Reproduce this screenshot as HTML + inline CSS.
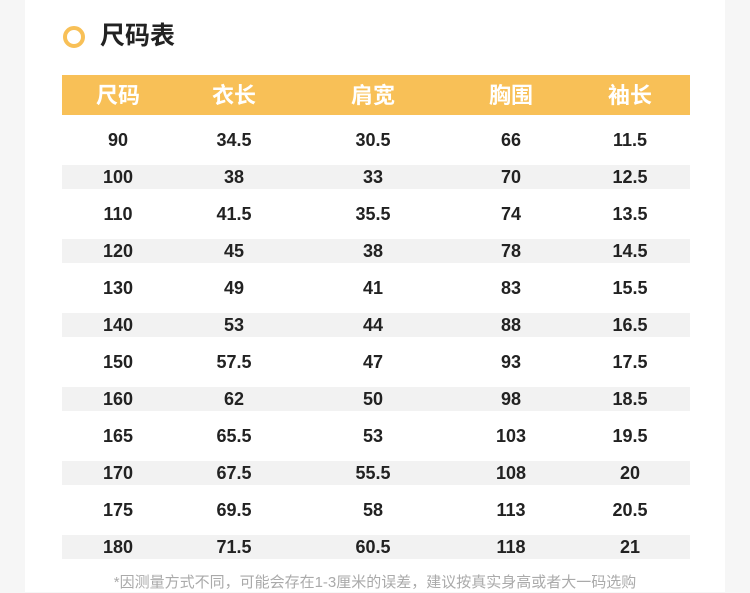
<!DOCTYPE html>
<html><head><meta charset="utf-8"><style>
body{margin:0;width:750px;height:592px;background:#f6f6f6;overflow:hidden;font-family:"Liberation Sans","Noto Sans CJK SC",sans-serif;}
.panel{position:absolute;left:25px;top:0;width:700px;height:592px;background:#fff;}
.circ{position:absolute;left:63px;top:26px;width:14px;height:14px;border:4px solid #f8c057;border-radius:50%;}
.title{position:absolute;left:100px;top:20px;font-size:25px;color:#222;line-height:32px;font-weight:bold;}
.hdr{position:absolute;left:62px;top:75px;width:628px;height:40px;background:#f8c057;}
.c{position:absolute;transform:translateX(-50%);white-space:nowrap;}
.h{color:#fff;font-size:22px;top:83px;line-height:26px;font-weight:bold;}
.stripe{position:absolute;left:62px;width:628px;height:24px;background:#f2f2f2;}
.v{font-size:18px;color:#222;line-height:20px;font-weight:bold;}
.foot{position:absolute;left:0;width:750px;text-align:center;top:573px;font-size:15px;color:#aaa;line-height:20px;}
</style></head><body>
<div class="panel"></div>
<div class="circ"></div>
<div class="title">尺码表</div>
<div class="hdr"></div>
<div class="c h" style="left:118px">尺码</div>
<div class="c h" style="left:234px">衣长</div>
<div class="c h" style="left:373px">肩宽</div>
<div class="c h" style="left:511px">胸围</div>
<div class="c h" style="left:630px">袖长</div>
<div id="rows"></div>
<div class="foot">*因测量方式不同，可能会存在1-3厘米的误差，建议按真实身高或者大一码选购</div>
<script>
var d=[["90","34.5","30.5","66","11.5"],["100","38","33","70","12.5"],["110","41.5","35.5","74","13.5"],["120","45","38","78","14.5"],["130","49","41","83","15.5"],["140","53","44","88","16.5"],["150","57.5","47","93","17.5"],["160","62","50","98","18.5"],["165","65.5","53","103","19.5"],["170","67.5","55.5","108","20"],["175","69.5","58","113","20.5"],["180","71.5","60.5","118","21"]];
var xs=[118,234,373,511,630],h="";
d.forEach(function(r,i){var cy=140+37*i;if(i%2)h+='<div class="stripe" style="top:'+(cy-12)+'px"></div>';
r.forEach(function(t,j){h+='<div class="c v" style="left:'+xs[j]+'px;top:'+(cy-10)+'px">'+t+'</div>';});});
document.getElementById("rows").innerHTML=h;
</script>
</body></html>
